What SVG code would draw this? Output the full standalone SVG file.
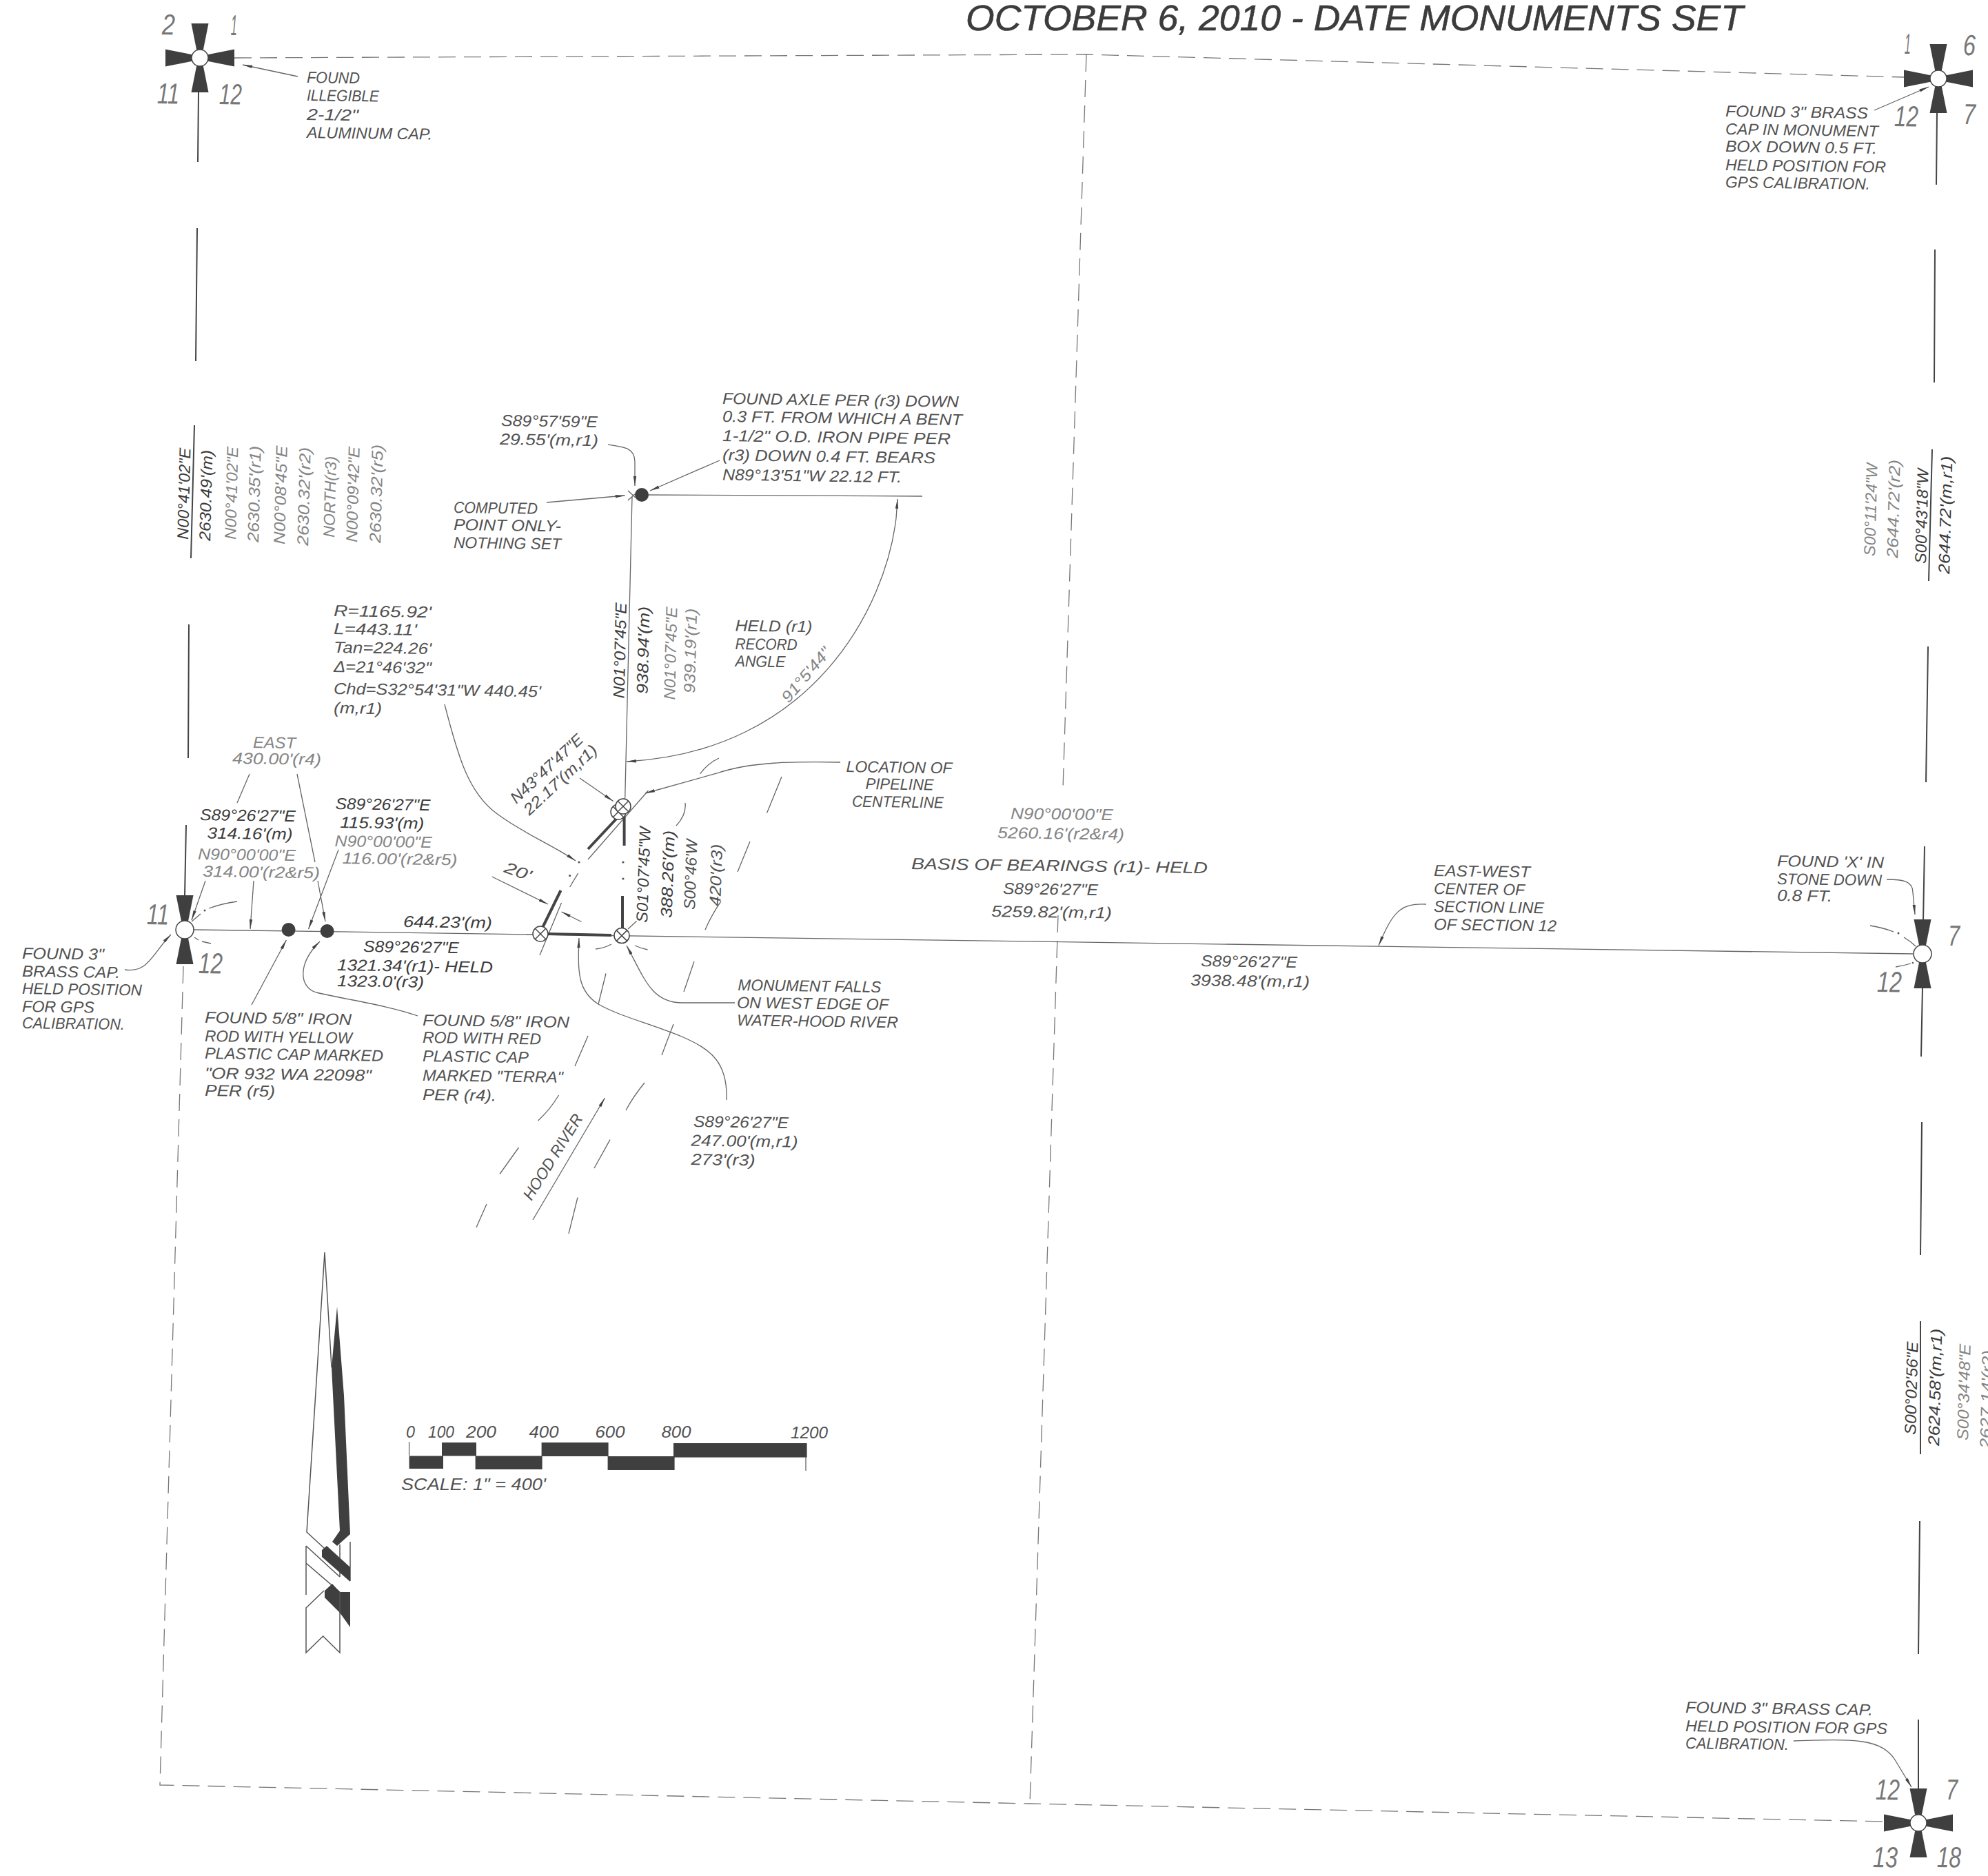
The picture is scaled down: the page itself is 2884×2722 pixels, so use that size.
<svg xmlns="http://www.w3.org/2000/svg" width="2884" height="2722" viewBox="0 0 2884 2722">
<style>
text{font-family:"Liberation Sans",Arial,sans-serif;font-style:italic;font-size:23px;fill:#525252}
.hz text{transform-box:fill-box;transform-origin:left;transform:rotate(.8deg)}
text.l{fill:#858585}
text.d{fill:#3c3c3c}
text.n{font-size:42px;fill:#777}
text.big{font-size:51px;fill:#3c3c3c;stroke:#3c3c3c;stroke-width:.6}
.ln{fill:none;stroke:#666;stroke-width:1.3}
.dk{fill:none;stroke:#444;stroke-width:2}
.ds{fill:none;stroke:#777;stroke-width:1.3;stroke-dasharray:25 12}
.th{fill:none;stroke:#444;stroke-width:4}
.ld{fill:none;stroke:#666;stroke-width:1.3;marker-end:url(#ah)}
.bk{fill:#3f3f3f}
.wh{fill:none;stroke:#555;stroke-width:1.5}
.dt{fill:#555}
</style>
<defs>
<marker id="ah" markerUnits="userSpaceOnUse" markerWidth="16" markerHeight="6" viewBox="0 -3 16 6" refX="14" refY="0" orient="auto"><path d="M0,-2.2L14,0L0,2.2Z" fill="#444"/></marker>
<polygon id="p" points="-12.5,-50 12.5,-50 4.5,-10 -4.5,-10" fill="#3f3f3f"/>
<g id="xc"><circle r="11" fill="#fff" stroke="#444" stroke-width="1.5"/><path d="M-8,-8L8,8M8,-8L-8,8" stroke="#444" stroke-width="1.5"/></g>
</defs>
<rect width="2884" height="2722" fill="#fff"/>

<g id="boundary-lines">
<path class="ds" d="M340,84L1576,79L2763,112"/>
<path class="ds" d="M1576,79L1542,1144"/>
<path class="ds" d="M1535,1328L1494,2617"/>
<path class="ds" d="M266,1402L232,2590L1494,2617L2733,2643"/>
<path class="dk" d="M288,133L287,235M286,331L284,524M282,617L277,810M274,906L273,1100M270,1197L268,1300"/>
<path class="dk" d="M2810,163L2809,268M2807,362L2806,555M2803,652L2798,843M2797,938L2794,1135M2792,1228L2790,1337"/>
<path class="dk" d="M2789,1432L2787,1533M2788,1628L2786,1821M2786,1917L2786,2110M2785,2207L2783,2400M2783,2495L2783,2597"/>
<path class="ln" d="M281,1349L2775,1384"/>
<path class="ln" d="M906.6,1163L917,721"/>
<path class="ln" d="M925,718L1338,720"/>
</g>

<g id="river-and-pipeline">
<path class="ln" d="M1015.6,1123Q1026,1108 1043,1100M1134,1127L1112.6,1179.5M1088,1221L1070,1265M1046,1307.6Q1032,1328 1023,1349M1007,1395L992,1439M977,1486L960,1531M935,1571Q918,1592 908,1611M885,1653.6L862,1695M838,1737.5L825,1790"/>
<path class="ln" d="M994,1165Q996,1182 981,1198M879,1412.5L868,1457M853,1503L834,1547M810.6,1589Q798,1610 780.6,1626M752.5,1665L725,1703.5M706,1747L691,1781"/>
<path class="ln" d="M853,1247L940.5,1147M826.6,1287L838.7,1267M783,1386L814.5,1310"/>
<path class="ln" d="M864,1377Q876,1376 887,1370M921,1372Q930,1376 939.5,1378M911,1348L923.5,1336.6"/>
<path class="th" d="M795,1355L887,1357M785,1350L813.5,1292M853,1232L897,1185M903,1300L903,1352M905.6,1185L905.6,1227"/>
<circle class="dt" cx="904" cy="1251" r="1.6"/><circle class="dt" cx="904" cy="1275" r="1.6"/><circle class="dt" cx="840" cy="1251" r="1.6"/><circle class="dt" cx="826.6" cy="1270.5" r="1.6"/>
<path class="ln" d="M344,1308Q322,1311 303,1318M291,1326L278,1337M282,1360L288,1364M293,1366L306,1369"/>
<circle class="dt" cx="297" cy="1321" r="1.5"/>
<path class="ln" d="M2713,1343Q2732,1346 2747,1352M2762,1360Q2772,1366 2779,1373M2750,1403Q2762,1401 2772,1398"/>
<circle class="dt" cx="2754" cy="1354" r="1.5"/><circle class="dt" cx="2775" cy="1397" r="1.2"/>
</g>

<g id="connectors">
<path class="ld" d="M432,111L352,94"/>
<path class="ld" d="M2719,160L2798,126"/>
<path class="ld" d="M2737,1276C2760,1276 2775,1278 2775,1295L2778,1327"/>
<path class="ld" d="M2602,2526C2690,2523 2730,2522 2750,2555L2773,2593"/>
<path class="ld" d="M181,1407C215,1412 220,1385 248,1356"/>
<path class="ln" d="M362,1123L344,1165M431,1123L457,1251"/>
<path class="ld" d="M461,1278L472,1337"/>
<path class="ld" d="M298,1278L278,1335"/>
<path class="ld" d="M368,1278L363,1348"/>
<path class="ld" d="M491,1233L447.5,1348"/>
<path class="ld" d="M365,1458L415.4,1364"/>
<path class="ld" d="M606,1474C560,1458 500,1450 459,1440C435,1433 430,1400 464,1366"/>
<path class="ld" d="M645,1022C665,1100 680,1150 720,1180C760,1210 800,1225 835,1249"/>
<path class="ld" d="M882,645C905,648 921,650 921,670L921,705"/>
<path class="ld" d="M1044,668L943,712"/>
<path class="ld" d="M793,729L906.6,719"/>
<path class="ld" d="M1219,1106C1150,1105 1090,1105 1040,1122L936,1151"/>
<path class="ld" d="M841,1129L889.6,1162.5"/>
<path class="ld" d="M713.7,1272L795,1312"/>
<path class="ld" d="M843.6,1337.5L814.5,1323"/>
<path class="ld" d="M1054,1596C1056,1540 1030,1522 989,1504C940,1484 900,1475 868,1457C838,1438 838,1410 840,1361"/>
<path class="ld" d="M1066,1455L990,1455C945,1455 935,1420 909,1372"/>
<path class="ld" d="M773,1770L877.5,1593"/>
<path class="ld" d="M2069,1312C2030,1310 2020,1325 2000,1372"/>
<path class="ld" d="M1300,752C1285,880 1180,1090 909,1105"/>
<path class="ld" d="M1300,752L1302,724"/>
</g>

<g id="monument-nw"><use href="#p" transform="translate(290,84)"/><use href="#p" transform="translate(290,84) rotate(90)"/><use href="#p" transform="translate(290,84) rotate(180)"/><use href="#p" transform="translate(290,84) rotate(270)"/><circle cx="290" cy="84" r="12" fill="#fff" stroke="#444" stroke-width="1.5"/></g>
<g id="monument-ne"><use href="#p" transform="translate(2812,114)"/><use href="#p" transform="translate(2812,114) rotate(90)"/><use href="#p" transform="translate(2812,114) rotate(180)"/><use href="#p" transform="translate(2812,114) rotate(270)"/><circle cx="2812" cy="114" r="12" fill="#fff" stroke="#444" stroke-width="1.5"/></g>
<g id="monument-w"><use href="#p" transform="translate(268,1349)"/><use href="#p" transform="translate(268,1349) rotate(180)"/><circle cx="268" cy="1349" r="13" fill="#fff" stroke="#444" stroke-width="1.5"/></g>
<g id="monument-e"><use href="#p" transform="translate(2789,1384)"/><use href="#p" transform="translate(2789,1384) rotate(180)"/><circle cx="2789" cy="1384" r="13" fill="#fff" stroke="#444" stroke-width="1.5"/></g>
<g id="monument-se"><use href="#p" transform="translate(2783,2645)"/><use href="#p" transform="translate(2783,2645) rotate(90)"/><use href="#p" transform="translate(2783,2645) rotate(180)"/><use href="#p" transform="translate(2783,2645) rotate(270)"/><circle cx="2783" cy="2645" r="12" fill="#fff" stroke="#444" stroke-width="1.5"/></g>
<g id="rod-yellow"><circle class="bk" cx="418.6" cy="1349" r="10"/></g>
<g id="rod-red"><circle class="bk" cx="474.6" cy="1351" r="10"/></g>
<g id="axle"><circle class="bk" cx="931" cy="718" r="10"/><path class="ln" d="M911,712L922,722M911,726L922,716"/></g>
<g id="pipe-points"><use href="#xc" transform="translate(784,1355)"/><use href="#xc" transform="translate(902,1357.6)"/><use href="#xc" transform="translate(897,1178)"/><use href="#xc" transform="translate(904,1170)"/></g>

<g id="north-arrow">
<path class="wh" d="M481,1984L471,1817L445,2223L471,2247"/>
<polygon class="bk" points="489,1896 481,1984 493,2221 482,2237 489,2243 508,2226 499,2025"/>
<path class="wh" d="M444,2243L493,2288M444,2268L493,2310M444,2243L444,2314M493,2241L493,2288M508,2237L508,2294"/>
<polygon class="bk" points="467,2249 474,2243 508,2274 508,2295 467,2259"/>
<polygon class="bk" points="471,2308 482,2298 493,2310 508,2310 508,2361 493,2340 471,2318"/>
<path class="wh" d="M470,2308L444,2333L444,2398L468.6,2374L493,2398L493,2310"/>
</g>

<g id="scale-bar">
<rect class="bk" x="593.6" y="2112.5" width="49.4" height="18.5"/>
<rect class="bk" x="641" y="2093" width="50" height="19.5"/>
<rect class="bk" x="689.6" y="2112.5" width="97" height="19.5"/>
<rect class="bk" x="785.6" y="2093" width="97" height="20"/>
<rect class="bk" x="881.6" y="2113" width="97" height="20"/>
<rect class="bk" x="977" y="2094" width="193.6" height="20.6"/>
<path class="ln" d="M593.6,2092V2112M1169,2114V2134"/>
<text lengthAdjust="spacingAndGlyphs" x="589" y="2086" textLength="13">0</text>
<text lengthAdjust="spacingAndGlyphs" x="621" y="2086" textLength="38">100</text>
<text lengthAdjust="spacingAndGlyphs" x="676" y="2086" textLength="44">200</text>
<text lengthAdjust="spacingAndGlyphs" x="767.5" y="2086" textLength="43">400</text>
<text lengthAdjust="spacingAndGlyphs" x="863.5" y="2086" textLength="43">600</text>
<text lengthAdjust="spacingAndGlyphs" x="959.5" y="2086" textLength="43">800</text>
<text lengthAdjust="spacingAndGlyphs" x="1147" y="2087" textLength="54">1200</text>
<text lengthAdjust="spacingAndGlyphs" x="582" y="2161.5" textLength="210">SCALE: 1" = 400'</text>
</g>

<g id="labels" class="hz">
<text lengthAdjust="spacingAndGlyphs" class="n" x="235" y="50" textLength="19">2</text><text lengthAdjust="spacingAndGlyphs" class="n" x="335" y="51" textLength="9">1</text><text lengthAdjust="spacingAndGlyphs" class="n" x="228" y="150" textLength="32">11</text><text lengthAdjust="spacingAndGlyphs" class="n" x="318" y="151" textLength="33">12</text>
<text lengthAdjust="spacingAndGlyphs" class="n" x="2763" y="78" textLength="9">1</text><text lengthAdjust="spacingAndGlyphs" class="n" x="2848" y="80" textLength="18">6</text><text lengthAdjust="spacingAndGlyphs" class="n" x="2748" y="183" textLength="35">12</text><text lengthAdjust="spacingAndGlyphs" class="n" x="2848" y="180" textLength="18">7</text>
<text lengthAdjust="spacingAndGlyphs" class="n" x="2826" y="1372" textLength="17">7</text><text lengthAdjust="spacingAndGlyphs" class="n" x="2723" y="1439" textLength="36">12</text>
<text lengthAdjust="spacingAndGlyphs" class="n" x="2721" y="2611" textLength="35">12</text><text lengthAdjust="spacingAndGlyphs" class="n" x="2823" y="2611" textLength="17">7</text><text lengthAdjust="spacingAndGlyphs" class="n" x="2717" y="2709" textLength="36">13</text><text lengthAdjust="spacingAndGlyphs" class="n" x="2810" y="2709" textLength="35">18</text>
<text lengthAdjust="spacingAndGlyphs" class="n" x="213" y="1341" textLength="32">11</text><text lengthAdjust="spacingAndGlyphs" class="n" x="288" y="1412" textLength="35">12</text>

<text lengthAdjust="spacingAndGlyphs" x="445" y="120" textLength="77">FOUND</text>
<text lengthAdjust="spacingAndGlyphs" x="445" y="146" textLength="105">ILLEGIBLE</text>
<text lengthAdjust="spacingAndGlyphs" x="445" y="174" textLength="75">2-1/2"</text>
<text lengthAdjust="spacingAndGlyphs" x="445" y="200" textLength="182">ALUMINUM CAP.</text>

<text lengthAdjust="spacingAndGlyphs" x="2503" y="169" textLength="207">FOUND 3" BRASS</text>
<text lengthAdjust="spacingAndGlyphs" x="2503" y="195" textLength="222">CAP IN MONUMENT</text>
<text lengthAdjust="spacingAndGlyphs" x="2503" y="220" textLength="220">BOX DOWN 0.5 FT.</text>
<text lengthAdjust="spacingAndGlyphs" x="2503" y="247" textLength="233">HELD POSITION FOR</text>
<text lengthAdjust="spacingAndGlyphs" x="2503" y="272" textLength="210">GPS CALIBRATION.</text>

<text lengthAdjust="spacingAndGlyphs" x="2578" y="1257" textLength="155">FOUND 'X' IN</text>
<text lengthAdjust="spacingAndGlyphs" x="2578" y="1283" textLength="152">STONE DOWN</text>
<text lengthAdjust="spacingAndGlyphs" x="2578" y="1307" textLength="80">0.8 FT.</text>

<text lengthAdjust="spacingAndGlyphs" x="2445" y="2485" textLength="272">FOUND 3" BRASS CAP.</text>
<text lengthAdjust="spacingAndGlyphs" x="2445" y="2512" textLength="293">HELD POSITION FOR GPS</text>
<text lengthAdjust="spacingAndGlyphs" x="2445" y="2537" textLength="150">CALIBRATION.</text>

<text lengthAdjust="spacingAndGlyphs" x="32" y="1391" textLength="119">FOUND 3"</text>
<text lengthAdjust="spacingAndGlyphs" x="32" y="1417" textLength="142">BRASS CAP.</text>
<text lengthAdjust="spacingAndGlyphs" x="32" y="1442" textLength="174">HELD POSITION</text>
<text lengthAdjust="spacingAndGlyphs" x="32" y="1468" textLength="105">FOR GPS</text>
<text lengthAdjust="spacingAndGlyphs" x="32" y="1492" textLength="149">CALIBRATION.</text>

<text lengthAdjust="spacingAndGlyphs" class="l" x="367" y="1085" textLength="62">EAST</text>
<text lengthAdjust="spacingAndGlyphs" class="l" x="337" y="1108" textLength="129">430.00'(r4)</text>
<text lengthAdjust="spacingAndGlyphs" class="d" x="290" y="1190" textLength="139">S89°26'27"E</text>
<text lengthAdjust="spacingAndGlyphs" class="d" x="300.6" y="1216.5" textLength="124">314.16'(m)</text>
<text lengthAdjust="spacingAndGlyphs" class="l" x="287" y="1247" textLength="142">N90°00'00"E</text>
<text lengthAdjust="spacingAndGlyphs" class="l" x="294" y="1272" textLength="170">314.00'(r2&amp;r5)</text>
<text lengthAdjust="spacingAndGlyphs" class="d" x="486.5" y="1174" textLength="138">S89°26'27"E</text>
<text lengthAdjust="spacingAndGlyphs" class="d" x="493.4" y="1201" textLength="122">115.93'(m)</text>
<text lengthAdjust="spacingAndGlyphs" class="l" x="485.6" y="1228" textLength="141">N90°00'00"E</text>
<text lengthAdjust="spacingAndGlyphs" class="l" x="496.6" y="1253" textLength="167">116.00'(r2&amp;r5)</text>
<text lengthAdjust="spacingAndGlyphs" class="d" x="585" y="1345" textLength="129">644.23'(m)</text>
<text lengthAdjust="spacingAndGlyphs" class="d" x="527" y="1381" textLength="139">S89°26'27"E</text>
<text lengthAdjust="spacingAndGlyphs" class="d" x="489" y="1408" textLength="226">1321.34'(r1)- HELD</text>
<text lengthAdjust="spacingAndGlyphs" class="d" x="489" y="1431" textLength="126">1323.0'(r3)</text>

<text lengthAdjust="spacingAndGlyphs" x="297" y="1484" textLength="213">FOUND 5/8" IRON</text>
<text lengthAdjust="spacingAndGlyphs" x="297" y="1511" textLength="214">ROD WITH YELLOW</text>
<text lengthAdjust="spacingAndGlyphs" x="297" y="1536" textLength="259">PLASTIC CAP MARKED</text>
<text lengthAdjust="spacingAndGlyphs" x="297" y="1565" textLength="242">"OR 932 WA 22098"</text>
<text lengthAdjust="spacingAndGlyphs" x="297" y="1590" textLength="102">PER (r5)</text>

<text lengthAdjust="spacingAndGlyphs" x="613" y="1488" textLength="213">FOUND 5/8" IRON</text>
<text lengthAdjust="spacingAndGlyphs" x="613" y="1513" textLength="172">ROD WITH RED</text>
<text lengthAdjust="spacingAndGlyphs" x="613" y="1540" textLength="154">PLASTIC CAP</text>
<text lengthAdjust="spacingAndGlyphs" x="613" y="1568" textLength="204">MARKED "TERRA"</text>
<text lengthAdjust="spacingAndGlyphs" x="613" y="1596" textLength="107">PER (r4).</text>

<text lengthAdjust="spacingAndGlyphs" x="727" y="618" textLength="140">S89°57'59"E</text>
<text lengthAdjust="spacingAndGlyphs" x="725" y="645" textLength="143">29.55'(m,r1)</text>
<text lengthAdjust="spacingAndGlyphs" x="1048" y="586" textLength="343">FOUND AXLE PER (r3) DOWN</text>
<text lengthAdjust="spacingAndGlyphs" x="1048" y="612" textLength="348">0.3 FT. FROM WHICH A BENT</text>
<text lengthAdjust="spacingAndGlyphs" x="1048" y="640" textLength="331">1-1/2" O.D. IRON PIPE PER</text>
<text lengthAdjust="spacingAndGlyphs" x="1048" y="668" textLength="309">(r3) DOWN 0.4 FT. BEARS</text>
<text lengthAdjust="spacingAndGlyphs" x="1048" y="696.5" textLength="260">N89°13'51"W 22.12 FT.</text>
<text lengthAdjust="spacingAndGlyphs" x="658" y="744" textLength="122">COMPUTED</text>
<text lengthAdjust="spacingAndGlyphs" x="658" y="769" textLength="156">POINT ONLY-</text>
<text lengthAdjust="spacingAndGlyphs" x="658" y="795" textLength="156">NOTHING SET</text>
<text lengthAdjust="spacingAndGlyphs" x="1066.5" y="915.5" textLength="112">HELD (r1)</text>
<text lengthAdjust="spacingAndGlyphs" x="1066.5" y="942" textLength="90">RECORD</text>
<text lengthAdjust="spacingAndGlyphs" x="1066.5" y="967" textLength="73">ANGLE</text>

<text lengthAdjust="spacingAndGlyphs" x="484" y="894" textLength="142">R=1165.92'</text>
<text lengthAdjust="spacingAndGlyphs" x="484" y="920" textLength="121">L=443.11'</text>
<text lengthAdjust="spacingAndGlyphs" x="484" y="947" textLength="142">Tan=224.26'</text>
<text lengthAdjust="spacingAndGlyphs" x="484" y="975" textLength="142">Δ=21°46'32"</text>
<text lengthAdjust="spacingAndGlyphs" x="484" y="1007" textLength="301">Chd=S32°54'31"W 440.45'</text>
<text lengthAdjust="spacingAndGlyphs" x="484" y="1035" textLength="70">(m,r1)</text>

<text lengthAdjust="spacingAndGlyphs" x="1227.5" y="1120" textLength="154">LOCATION OF</text>
<text lengthAdjust="spacingAndGlyphs" x="1255.6" y="1145" textLength="99">PIPELINE</text>
<text lengthAdjust="spacingAndGlyphs" x="1236" y="1170.5" textLength="133">CENTERLINE</text>
<text lengthAdjust="spacingAndGlyphs" x="1070.4" y="1437" textLength="208">MONUMENT FALLS</text>
<text lengthAdjust="spacingAndGlyphs" x="1069" y="1462.5" textLength="220">ON WEST EDGE OF</text>
<text lengthAdjust="spacingAndGlyphs" x="1069" y="1488" textLength="234">WATER-HOOD RIVER</text>
<text lengthAdjust="spacingAndGlyphs" x="1006" y="1635" textLength="138">S89°26'27"E</text>
<text lengthAdjust="spacingAndGlyphs" x="1002.6" y="1662.5" textLength="155">247.00'(m,r1)</text>
<text lengthAdjust="spacingAndGlyphs" x="1002.6" y="1690" textLength="93">273'(r3)</text>

<text lengthAdjust="spacingAndGlyphs" x="1322" y="1261" textLength="430">BASIS OF BEARINGS (r1)- HELD</text>
<text lengthAdjust="spacingAndGlyphs" class="l" x="1466" y="1188" textLength="149">N90°00'00"E</text>
<text lengthAdjust="spacingAndGlyphs" class="l" x="1447" y="1216" textLength="184">5260.16'(r2&amp;r4)</text>
<text lengthAdjust="spacingAndGlyphs" x="1455" y="1297" textLength="138">S89°26'27"E</text>
<text lengthAdjust="spacingAndGlyphs" x="1438" y="1330" textLength="175">5259.82'(m,r1)</text>
<text lengthAdjust="spacingAndGlyphs" x="2080" y="1271" textLength="140">EAST-WEST</text>
<text lengthAdjust="spacingAndGlyphs" x="2080" y="1297" textLength="132">CENTER OF</text>
<text lengthAdjust="spacingAndGlyphs" x="2080" y="1323" textLength="160">SECTION LINE</text>
<text lengthAdjust="spacingAndGlyphs" x="2080" y="1349" textLength="178">OF SECTION 12</text>
<text lengthAdjust="spacingAndGlyphs" x="1742" y="1402" textLength="140">S89°26'27"E</text>
<text lengthAdjust="spacingAndGlyphs" x="1727" y="1430" textLength="173">3938.48'(m,r1)</text>
</g>

<g id="rotated-labels">
<text lengthAdjust="spacingAndGlyphs" class="big" x="1401" y="44" textLength="1128">OCTOBER 6, 2010 - DATE MONUMENTS SET</text>
<text lengthAdjust="spacingAndGlyphs" class="d" transform="translate(273,783) rotate(-88.5)" textLength="133">N00°41'02"E</text>
<text lengthAdjust="spacingAndGlyphs" class="d" transform="translate(305,785) rotate(-88.5)" textLength="132">2630.49'(m)</text>
<text lengthAdjust="spacingAndGlyphs" class="l" transform="translate(342,783) rotate(-88.5)" textLength="135">N00°41'02"E</text>
<text lengthAdjust="spacingAndGlyphs" class="l" transform="translate(375,787) rotate(-88.5)" textLength="140">2630.35'(r1)</text>
<text lengthAdjust="spacingAndGlyphs" class="l" transform="translate(413,790) rotate(-88.5)" textLength="143">N00°08'45"E</text>
<text lengthAdjust="spacingAndGlyphs" class="l" transform="translate(447,792) rotate(-88.5)" textLength="143">2630.32'(r2)</text>
<text lengthAdjust="spacingAndGlyphs" class="l" transform="translate(485,780) rotate(-88.5)" textLength="118">NORTH(r3)</text>
<text lengthAdjust="spacingAndGlyphs" class="l" transform="translate(518,787) rotate(-88.5)" textLength="139">N00°09'42"E</text>
<text lengthAdjust="spacingAndGlyphs" class="l" transform="translate(552,788) rotate(-88.5)" textLength="143">2630.32'(r5)</text>

<text lengthAdjust="spacingAndGlyphs" class="l" transform="translate(2720,807) rotate(-88.5)" textLength="135">S00°11'24"W</text>
<text lengthAdjust="spacingAndGlyphs" class="l" transform="translate(2753,810) rotate(-88.5)" textLength="143">2644.72'(r2)</text>
<text lengthAdjust="spacingAndGlyphs" class="d" transform="translate(2794,818) rotate(-88.5)" textLength="138">S00°43'18"W</text>
<text lengthAdjust="spacingAndGlyphs" class="d" transform="translate(2828,833) rotate(-88.5)" textLength="171">2644.72'(m,r1)</text>
<text lengthAdjust="spacingAndGlyphs" class="d" transform="translate(2779,2082) rotate(-88.5)" textLength="135">S00°02'56"E</text>
<text lengthAdjust="spacingAndGlyphs" class="d" transform="translate(2813,2098) rotate(-88.5)" textLength="170">2624.58'(m,r1)</text>
<text lengthAdjust="spacingAndGlyphs" class="l" transform="translate(2855,2090) rotate(-88.5)" textLength="140">S00°34'48"E</text>
<text lengthAdjust="spacingAndGlyphs" class="l" transform="translate(2888,2102) rotate(-88.5)" textLength="143">2627.14'(r2)</text>

<text lengthAdjust="spacingAndGlyphs" class="d" transform="translate(905.6,1013.5) rotate(-88.6)" textLength="139">N01°07'45"E</text>
<text lengthAdjust="spacingAndGlyphs" class="d" transform="translate(939.5,1007) rotate(-88.6)" textLength="127">938.94'(m)</text>
<text lengthAdjust="spacingAndGlyphs" class="l" transform="translate(979,1015.6) rotate(-88.6)" textLength="135">N01°07'45"E</text>
<text lengthAdjust="spacingAndGlyphs" class="l" transform="translate(1008,1006) rotate(-88.6)" textLength="123">939.19'(r1)</text>
<text lengthAdjust="spacingAndGlyphs" class="l" transform="translate(1144,1021) rotate(-49.6)" textLength="97">91°5'44"</text>
<text lengthAdjust="spacingAndGlyphs" transform="translate(749,1167) rotate(-43)" textLength="135">N43°47'47"E</text>
<text lengthAdjust="spacingAndGlyphs" transform="translate(768,1184) rotate(-43)" textLength="137">22.17'(m,r1)</text>
<text lengthAdjust="spacingAndGlyphs" transform="translate(730,1265) rotate(20)" textLength="40">20'</text>
<text lengthAdjust="spacingAndGlyphs" class="d" transform="translate(939,1339) rotate(-88)" textLength="139">S01°07'45"W</text>
<text lengthAdjust="spacingAndGlyphs" class="d" transform="translate(974.4,1332) rotate(-88)" textLength="127">388.26'(m)</text>
<text lengthAdjust="spacingAndGlyphs" transform="translate(1008,1320) rotate(-88)" textLength="102">S00°46'W</text>
<text lengthAdjust="spacingAndGlyphs" transform="translate(1045,1315) rotate(-88)" textLength="90">420'(r3)</text>
<text lengthAdjust="spacingAndGlyphs" transform="translate(771,1743) rotate(-58)" textLength="142">HOOD RIVER</text>
</g>
</svg>
